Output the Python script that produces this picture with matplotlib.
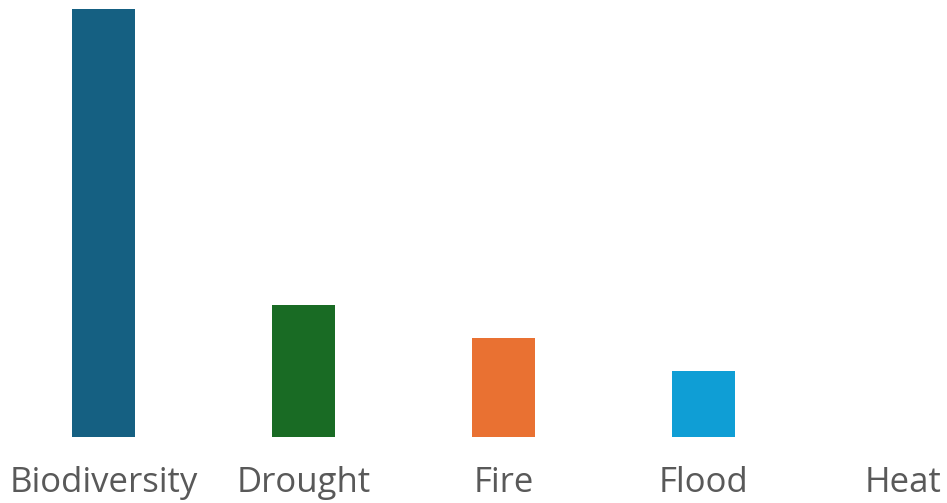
import matplotlib
matplotlib.use("Agg")
import matplotlib.pyplot as plt

categories = ["Biodiversity", "Drought", "Fire", "Flood", "Heat"]
values = [13, 4, 3, 2, 0]
colors = ["#156082", "#196B24", "#E97132", "#0F9ED5", "#A02B93"]

W, H = 947, 503
fig = plt.figure(figsize=(W / 100, H / 100), dpi=100)
# bars bottom at y=437px, top of value 13 at y=9px
ax = fig.add_axes([0, 66 / H, 1, 428 / H])

x = list(range(len(categories)))
ax.bar(x, values, width=0.315, color=colors)

# category 0 centre at 103.5 px, spacing 200 px
ax.set_xlim(-103.5 / 200, (W - 103.5) / 200)
ax.set_ylim(0, 13)

ax.set_xticks(x)
ax.set_xticklabels(categories, fontsize=25, color="#595959", family="Open Sans")
ax.tick_params(axis="x", length=0, pad=21)
ax.set_yticks([])
for s in ax.spines.values():
    s.set_visible(False)

fig.savefig("out.png", dpi=100)
